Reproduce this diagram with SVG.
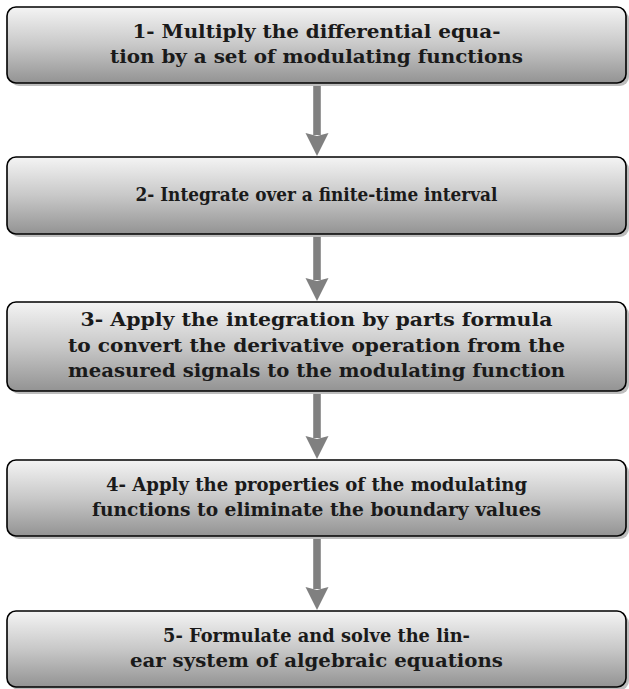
<svg xmlns="http://www.w3.org/2000/svg" width="629" height="689" viewBox="0 0 629 689">
<style>
.box{fill:url(#g);stroke:#000;stroke-width:1.6}
.sh{fill:#bdbdbd}
.t{font-family:"DejaVu Serif","Liberation Serif",serif;font-weight:bold;font-size:18px;fill:#1a1a1a;text-anchor:middle}
.arr{stroke:#808080;stroke-width:7.6;fill:none;marker-end:url(#ah)}
</style>
<defs>
<linearGradient id="g" x1="0" y1="0" x2="0" y2="1">
<stop offset="0" stop-color="#f4f4f4"/>
<stop offset="0.5" stop-color="#c8c8c8"/>
<stop offset="1" stop-color="#939393"/>
</linearGradient>
<marker id="ah" markerUnits="userSpaceOnUse" markerWidth="30" markerHeight="30" viewBox="-5 -15 30 30" refX="0" refY="0" orient="auto">
<path d="M-2,-11.5 L21,0 L-2,11.5 L1,0 Z" fill="#808080"/>
</marker>
</defs>
<g id="connectors">
<line class="arr" x1="317" y1="83" x2="317" y2="135"/>
<line class="arr" x1="317" y1="234" x2="317" y2="280"/>
<line class="arr" x1="317" y1="391" x2="317" y2="438"/>
<line class="arr" x1="317" y1="536" x2="317" y2="589"/>
</g>
<g id="node1">
<rect class="sh" x="10" y="10" width="619" height="76" rx="9"/>
<rect class="box" x="7" y="7" width="619" height="76" rx="9"/>
<text class="t" x="316.5" y="37.5" textLength="368" lengthAdjust="spacingAndGlyphs">1- Multiply the differential equa-</text>
<text class="t" x="316.5" y="62.5" textLength="413" lengthAdjust="spacingAndGlyphs">tion by a set of modulating functions</text>
</g>
<g id="node2">
<rect class="sh" x="10" y="160" width="619" height="77" rx="9"/>
<rect class="box" x="7" y="157" width="619" height="77" rx="9"/>
<text class="t" x="316.5" y="200.5" textLength="362" lengthAdjust="spacingAndGlyphs">2- Integrate over a finite-time interval</text>
</g>
<g id="node3">
<rect class="sh" x="10" y="305" width="619" height="89" rx="9"/>
<rect class="box" x="7" y="302" width="619" height="89" rx="9"/>
<text class="t" x="316.5" y="326" textLength="472" lengthAdjust="spacingAndGlyphs">3- Apply the integration by parts formula</text>
<text class="t" x="316.5" y="352" textLength="497" lengthAdjust="spacingAndGlyphs">to convert the derivative operation from the</text>
<text class="t" x="316.5" y="377" textLength="497" lengthAdjust="spacingAndGlyphs">measured signals to the modulating function</text>
</g>
<g id="node4">
<rect class="sh" x="10" y="463" width="619" height="76" rx="9"/>
<rect class="box" x="7" y="460" width="619" height="76" rx="9"/>
<text class="t" x="316.5" y="491" textLength="421" lengthAdjust="spacingAndGlyphs">4- Apply the properties of the modulating</text>
<text class="t" x="316.5" y="516" textLength="449" lengthAdjust="spacingAndGlyphs">functions to eliminate the boundary values</text>
</g>
<g id="node5">
<rect class="sh" x="10" y="614" width="619" height="76" rx="9"/>
<rect class="box" x="7" y="611" width="619" height="76" rx="9"/>
<text class="t" x="316.5" y="642" textLength="307" lengthAdjust="spacingAndGlyphs">5- Formulate and solve the lin-</text>
<text class="t" x="316.5" y="667" textLength="373" lengthAdjust="spacingAndGlyphs">ear system of algebraic equations</text>
</g>
</svg>
